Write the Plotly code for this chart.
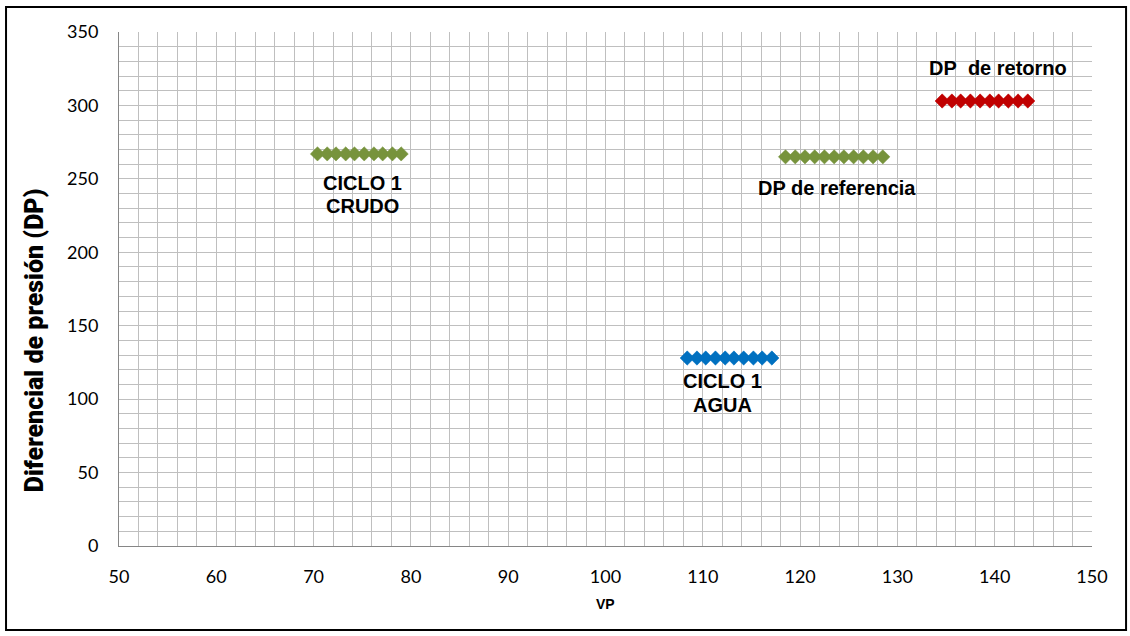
import plotly.graph_objects as go

# Differential pressure (DP) readings against VP for each run
crudo_vp = [70.4, 71.4, 72.3, 73.3, 74.2, 75.2, 76.2, 77.1, 78.1, 79.0]
crudo_dp = [267, 267, 267, 267, 267, 267, 267, 267, 267, 267]

agua_vp = [108.4, 109.4, 110.3, 111.3, 112.3, 113.2, 114.2, 115.2, 116.1, 117.1]
agua_dp = [128, 128, 128, 128, 128, 128, 128, 128, 128, 128]

referencia_vp = [118.5, 119.5, 120.5, 121.5, 122.5, 123.5, 124.5, 125.5, 126.5, 127.5, 128.5]
referencia_dp = [265, 265, 265, 265, 265, 265, 265, 265, 265, 265, 265]

retorno_vp = [134.6, 135.6, 136.5, 137.5, 138.5, 139.5, 140.4, 141.4, 142.4, 143.4]
retorno_dp = [303, 303, 303, 303, 303, 303, 303, 303, 303, 303]

GREEN = "#77933C"
BLUE = "#0070C0"
RED = "#C00000"

series = [
    ("CICLO 1 CRUDO", crudo_vp, crudo_dp, GREEN),
    ("CICLO 1 AGUA", agua_vp, agua_dp, BLUE),
    ("DP de referencia", referencia_vp, referencia_dp, GREEN),
    ("DP de retorno", retorno_vp, retorno_dp, RED),
]

fig = go.Figure()
for name, xs, ys, color in series:
    fig.add_trace(go.Scatter(
        x=xs, y=ys, name=name, mode="markers",
        marker=dict(symbol="diamond", size=11, color=color, line=dict(width=0.5, color=color)),
        showlegend=False,
    ))

# Series labels, one annotation per text line
label_font = dict(family="Liberation Sans, Arial, sans-serif", size=20, color="#000000", weight="bold")
labels = [
    (75.0, 247.2, "CICLO 1"),
    (75.0, 231.5, "CRUDO"),
    (112.0, 112.4, "CICLO 1"),
    (112.0, 96.0, "AGUA"),
    (123.8, 243.8, "DP de referencia"),
    (140.3, 325.5, "DP\u00a0\u00a0de retorno"),
]
for x, y, text in labels:
    fig.add_annotation(x=x, y=y, xref="x", yref="y", text=text, showarrow=False,
                       font=label_font, align="center", xanchor="center", yanchor="middle")

# Axis titles
fig.add_annotation(x=0.5, y=-0.113, xref="paper", yref="paper", text="VP", showarrow=False,
                   font=dict(family="Liberation Sans, Arial, sans-serif", size=14, color="#000000", weight="bold"),
                   xanchor="center", yanchor="middle")
fig.add_annotation(x=-0.0865, y=0.40, xref="paper", yref="paper", text="Diferencial de presión (DP)",
                   showarrow=False, textangle=-90,
                   font=dict(family="Roboto, Liberation Sans, sans-serif", size=25, color="#000000", weight=900),
                   xanchor="center", yanchor="middle")

# Outer chart frame
fig.add_shape(type="rect", xref="paper", yref="paper",
              x0=-0.1161, x1=1.0350, y0=-0.1634, y1=1.0486,
              line=dict(color="#000000", width=2), fillcolor="rgba(0,0,0,0)", layer="below")

tick_font = dict(family="Lato, Carlito, sans-serif", size=18, color="#000000")
grid_color = "#BFBFBF"

fig.update_layout(
    width=1130, height=636,
    margin=dict(l=119, r=38, t=32, b=90),
    paper_bgcolor="#FFFFFF", plot_bgcolor="#FFFFFF",
    xaxis=dict(
        range=[50, 150], dtick=10, tick0=50, showgrid=True, gridcolor=grid_color, gridwidth=1,
        minor=dict(dtick=2, showgrid=True, gridcolor=grid_color, gridwidth=1),
        showline=True, linecolor="#868686", linewidth=1, zeroline=False,
        ticks="", tickfont=tick_font, ticklabelstandoff=14,
    ),
    yaxis=dict(
        range=[0, 350], dtick=50, tick0=0, showgrid=True, gridcolor=grid_color, gridwidth=1,
        minor=dict(dtick=10, showgrid=True, gridcolor=grid_color, gridwidth=1),
        showline=True, linecolor="#868686", linewidth=1, zeroline=False,
        ticks="", tickfont=tick_font, ticklabelstandoff=16,
    ),
)

fig.write_html("out.html")
